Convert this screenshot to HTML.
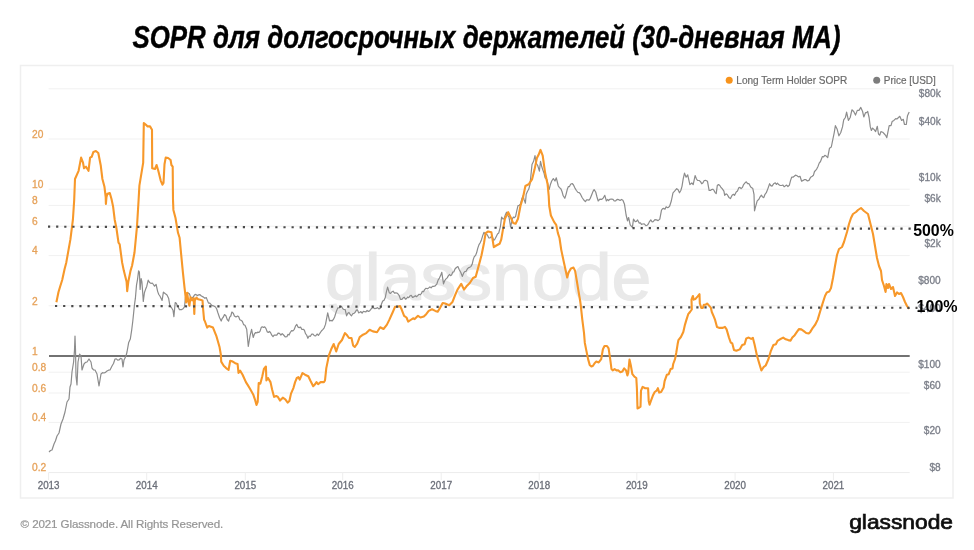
<!DOCTYPE html>
<html><head><meta charset="utf-8"><style>
html,body{margin:0;padding:0;background:#fff;}
body{width:974px;height:550px;overflow:hidden;position:relative;}
svg{position:absolute;left:0;top:0;}
</style></head><body>
<svg width="974" height="550" viewBox="0 0 974 550">
<text x="132.6" y="48.1" font-family="Liberation Sans, sans-serif" font-weight="bold" font-style="italic" font-size="31.5" fill="#000" stroke="#000" stroke-width="0.45" textLength="708" lengthAdjust="spacingAndGlyphs">SOPR для долгосрочных держателей (30-дневная MA)</text>
<defs><filter id="soft" filterUnits="userSpaceOnUse" x="0" y="0" width="974" height="550"><feGaussianBlur stdDeviation="0.4"/></filter></defs>
<g filter="url(#soft)">
<rect x="20.5" y="65.5" width="932.5" height="432.5" fill="#fff" stroke="#efefef" stroke-width="1.5"/>
<g stroke="#f1f1f1" stroke-width="1"><line x1="48.6" y1="88.8" x2="909.7" y2="88.8"/><line x1="48.6" y1="139.0" x2="909.7" y2="139.0"/><line x1="48.6" y1="189.2" x2="909.7" y2="189.2"/><line x1="48.6" y1="205.4" x2="909.7" y2="205.4"/><line x1="48.6" y1="226.2" x2="909.7" y2="226.2"/><line x1="48.6" y1="255.6" x2="909.7" y2="255.6"/><line x1="48.6" y1="305.8" x2="909.7" y2="305.8"/><line x1="48.6" y1="372.2" x2="909.7" y2="372.2"/><line x1="48.6" y1="393.0" x2="909.7" y2="393.0"/><line x1="48.6" y1="422.4" x2="909.7" y2="422.4"/></g>
<line x1="48.6" y1="472.6" x2="909.7" y2="472.6" stroke="#ececec" stroke-width="1"/>
<g stroke="#eeeeee" stroke-width="1"><line x1="48.6" y1="472.6" x2="48.6" y2="480"/><line x1="146.7" y1="472.6" x2="146.7" y2="480"/><line x1="245.3" y1="472.6" x2="245.3" y2="480"/><line x1="342.7" y1="472.6" x2="342.7" y2="480"/><line x1="441.2" y1="472.6" x2="441.2" y2="480"/><line x1="539.2" y1="472.6" x2="539.2" y2="480"/><line x1="636.8" y1="472.6" x2="636.8" y2="480"/><line x1="735.1" y1="472.6" x2="735.1" y2="480"/><line x1="833.4" y1="472.6" x2="833.4" y2="480"/></g>
<text x="324.9" y="299.6" font-family="Liberation Sans, sans-serif" font-size="67" fill="#e9e9e9" stroke="#e9e9e9" stroke-width="1.2" textLength="326.5" lengthAdjust="spacingAndGlyphs">glassnode</text>
<line x1="49" y1="356" x2="909.7" y2="356" stroke="#727272" stroke-width="1.8"/>
<polyline points="49.0,452.0 50.5,450.5 52.0,450.0 54.0,444.0 55.5,440.7 57.0,436.0 59.0,433.0 61.0,424.0 63.0,419.0 65.0,412.0 67.0,402.0 69.0,399.0 70.0,387.0 71.0,384.0 72.0,372.0 73.6,362.0 74.5,350.0 75.0,336.0 75.5,350.0 76.0,376.0 77.0,385.0 78.0,362.0 79.6,354.0 81.0,356.0 82.0,370.0 84.0,364.0 85.5,362.4 87.0,362.0 89.0,359.0 91.0,362.0 92.0,368.0 93.5,369.8 95.0,370.0 97.0,374.0 99.0,386.0 101.0,374.0 102.5,372.7 104.0,373.0 105.5,372.4 107.0,371.0 108.5,370.2 110.0,370.0 112.0,366.0 113.5,363.5 115.0,359.0 116.3,358.8 117.7,360.2 119.0,360.0 120.5,358.4 122.0,359.0 123.0,367.0 124.0,360.0 126.0,356.0 127.0,352.0 128.7,342.4 130.3,339.1 131.6,330.7 132.8,321.0 134.5,304.6 135.4,298.2 136.5,285.1 137.5,279.6 138.6,270.9 139.4,272.0 140.1,289.5 141.1,278.5 141.9,281.8 142.7,292.7 143.3,301.5 144.4,292.7 145.7,288.9 146.8,286.2 148.2,280.2 149.5,282.4 151.2,283.5 152.3,283.0 153.4,284.5 154.5,286.2 156.1,284.5 157.7,291.6 158.8,294.5 159.9,296.0 162.1,300.4 163.4,292.2 165.4,293.8 167.0,294.9 168.6,298.2 169.9,305.8 171.4,307.5 173.0,310.2 173.9,316.7 175.2,302.5 176.3,303.3 177.4,305.8 179.5,309.6 181.7,309.6 183.1,308.7 184.5,306.9 185.5,297.1 187.7,292.7 189.4,293.8 191.0,298.2 193.2,297.1 194.6,294.9 195.9,294.4 197.2,295.6 198.6,294.9 200.0,294.7 201.4,296.0 203.5,297.1 204.9,298.3 206.3,297.6 208.5,303.1 209.8,303.1 211.2,304.7 212.3,305.6 213.4,305.8 215.5,307.0 216.7,309.0 217.9,312.8 219.6,317.7 221.2,321.0 222.3,318.3 223.4,317.0 224.5,314.5 225.9,315.7 227.2,319.5 228.6,321.0 229.7,317.1 230.8,316.0 231.9,312.0 233.2,313.1 234.4,316.0 236.0,317.0 237.6,316.0 238.7,316.8 239.8,319.7 240.9,320.2 242.3,321.2 243.6,324.6 245.0,325.2 246.7,329.3 248.3,346.5 250.0,335.8 251.6,329.3 253.2,337.5 254.4,334.0 255.7,332.5 256.8,332.9 257.9,332.1 259.0,332.5 260.1,331.1 261.2,327.6 262.3,326.8 263.5,327.5 264.7,326.8 265.9,328.4 267.2,331.7 268.3,332.5 269.4,331.5 270.5,332.5 271.8,335.2 273.0,336.7 274.2,335.2 275.4,335.0 276.8,335.2 278.1,333.2 279.5,333.4 280.9,335.0 282.2,333.6 283.6,335.0 285.2,336.9 286.9,336.7 288.0,334.3 289.1,335.0 290.2,332.5 291.6,330.6 292.9,330.8 294.3,329.3 295.6,325.9 296.8,324.4 298.0,327.1 299.2,327.6 300.6,327.1 301.9,329.5 303.3,329.3 304.4,330.3 305.5,333.6 306.6,335.0 307.9,338.3 309.1,336.0 310.4,336.3 311.6,334.2 313.0,334.2 314.3,335.6 315.7,335.8 317.1,334.0 318.4,335.3 319.8,333.4 321.4,331.0 323.0,329.3 324.2,327.8 325.5,324.4 327.7,312.8 329.6,321.0 330.9,320.4 332.1,321.0 333.4,319.4 334.6,317.0 336.2,311.9 337.8,307.9 339.1,308.0 340.3,306.3 341.6,306.5 342.8,308.7 344.0,309.5 345.2,309.6 346.6,315.8 347.8,313.3 349.0,312.5 350.2,314.5 351.5,315.8 352.8,313.7 354.0,313.4 355.2,312.3 356.4,310.1 357.5,309.9 358.6,312.8 359.7,312.5 360.9,311.6 362.1,313.2 363.4,311.3 364.6,311.7 365.9,311.9 367.1,310.5 368.4,311.5 369.6,310.9 371.2,308.8 372.9,307.6 374.5,308.6 376.1,308.4 377.5,307.6 378.8,308.9 380.2,308.4 381.4,304.3 382.7,301.0 383.9,300.4 385.2,297.8 386.4,291.9 387.6,287.1 389.3,292.8 390.5,293.5 391.7,292.0 393.1,291.2 394.5,293.2 395.9,292.8 397.5,293.4 399.1,295.3 400.5,299.4 401.9,299.3 403.2,297.8 404.3,297.2 405.4,299.1 406.5,298.6 407.6,297.0 408.7,297.7 409.8,296.1 411.2,295.3 412.5,297.4 413.9,296.9 415.3,295.7 416.6,296.7 418.0,295.3 419.1,294.3 420.2,294.8 421.3,293.7 422.4,291.3 423.5,291.7 424.6,289.6 426.0,288.3 427.3,288.8 428.7,287.9 429.9,286.9 431.1,287.9 432.4,286.4 433.6,286.3 435.2,285.9 436.9,283.8 438.1,280.1 439.4,278.1 440.6,275.6 441.8,272.3 443.5,283.8 444.8,280.5 446.0,278.9 447.2,277.9 448.4,275.6 449.5,274.5 450.6,275.7 451.7,274.8 452.8,272.0 453.9,271.8 455.0,269.0 456.4,267.5 457.9,266.6 459.3,269.8 460.7,272.3 462.4,276.4 463.6,273.1 464.8,271.5 466.1,271.3 467.3,269.0 468.6,267.7 469.8,267.4 471.0,266.4 472.2,264.1 473.3,259.4 474.4,256.4 475.5,255.6 476.6,252.8 477.8,248.1 479.0,244.6 480.2,242.7 481.5,239.7 482.8,235.4 484.0,232.3 485.2,233.9 486.4,234.0 487.6,235.4 488.9,238.0 490.1,237.8 491.4,236.4 492.6,237.5 493.8,240.5 495.1,238.8 496.3,236.4 497.5,234.0 498.7,233.1 500.4,226.6 501.6,217.2 502.9,218.9 504.1,218.8 505.3,214.9 506.5,212.2 507.8,215.2 509.0,217.2 510.6,227.0 512.3,218.8 513.4,217.1 514.5,217.7 515.6,216.4 516.8,210.6 518.0,205.7 519.2,205.5 520.5,204.0 521.8,199.0 523.0,195.8 524.2,199.9 525.4,203.2 526.2,194.2 527.5,191.2 528.7,189.3 530.0,184.3 532.0,164.6 533.6,161.3 535.0,155.6 536.1,163.0 537.7,165.5 539.4,171.2 540.5,161.3 541.6,166.0 542.7,169.6 543.9,172.7 545.1,177.8 546.8,179.4 548.0,185.0 549.2,189.3 550.5,184.2 551.7,181.0 553.3,178.6 555.0,181.0 556.3,177.8 558.3,186.0 559.5,187.7 560.7,188.4 562.0,191.5 563.2,195.8 564.8,198.3 566.0,194.6 567.3,189.3 568.4,186.6 569.5,186.6 570.6,184.3 572.2,183.5 573.5,185.0 574.7,187.6 576.4,190.5 578.0,192.5 579.2,192.6 580.5,194.2 582.1,197.5 583.8,200.0 585.4,201.6 586.6,199.8 587.8,199.9 589.0,200.1 590.3,198.3 591.9,194.2 593.0,191.4 594.1,189.6 595.7,192.0 597.0,197.0 598.2,201.0 599.9,199.2 601.5,199.4 603.1,198.2 604.8,195.3 606.4,201.0 607.5,199.5 608.6,200.5 609.7,199.4 611.4,199.0 613.0,199.4 614.2,200.8 615.5,201.0 617.1,199.4 618.7,199.7 620.1,200.4 621.5,199.4 622.9,200.2 624.5,204.3 626.1,215.0 627.5,220.8 628.6,217.5 630.2,224.9 632.4,227.3 633.5,219.1 635.2,221.6 636.4,221.4 637.6,219.9 639.3,223.2 640.4,222.8 641.5,224.4 642.6,224.0 644.2,223.8 645.9,225.7 647.1,225.3 648.3,224.0 649.5,221.6 650.8,219.9 652.0,221.8 653.2,221.6 654.9,219.7 656.5,219.9 658.1,220.6 659.8,219.1 661.5,210.1 662.7,208.6 663.9,208.4 665.0,209.2 666.1,206.8 667.2,207.6 668.5,207.3 669.7,206.0 671.3,201.0 673.0,192.8 674.6,191.2 676.7,188.7 678.1,189.8 679.5,192.8 680.8,190.5 682.0,186.3 683.2,178.9 684.5,173.1 686.1,177.2 687.7,174.8 689.9,184.6 691.8,183.0 693.2,184.6 695.1,175.6 696.4,178.8 697.6,180.5 699.2,180.5 700.5,181.6 701.7,183.8 703.0,182.7 704.2,180.5 705.9,180.4 707.5,181.3 709.1,190.4 710.4,190.4 711.6,189.6 712.8,189.2 714.0,190.4 715.1,192.6 716.2,193.7 717.3,185.5 718.5,184.5 719.8,185.5 721.0,187.5 722.2,188.7 723.9,191.2 724.7,195.3 726.0,193.9 727.2,194.5 728.9,197.4 730.5,198.6 732.1,195.3 733.4,194.3 734.6,195.3 736.2,192.0 737.5,191.0 738.7,187.9 739.9,187.3 741.1,188.7 742.4,187.4 743.6,184.6 745.0,182.9 746.3,181.8 747.6,183.7 749.0,183.7 750.7,187.0 752.8,188.6 754.0,194.3 754.5,210.8 755.6,206.7 757.2,200.9 758.9,199.3 760.1,196.8 761.4,195.2 762.6,197.0 763.8,197.6 765.0,194.3 766.3,192.7 767.9,188.6 769.6,183.7 770.8,185.6 772.0,186.1 773.6,183.8 775.3,182.8 776.4,184.4 777.5,183.1 778.6,184.5 780.2,185.5 781.9,185.3 783.0,185.0 784.1,186.8 785.2,186.1 786.6,185.1 787.9,186.5 789.3,185.3 790.5,180.6 791.7,177.1 793.0,177.2 794.2,176.3 795.5,175.2 796.7,175.5 798.4,176.9 800.0,176.3 801.6,181.2 803.2,180.4 804.5,179.5 805.7,179.6 807.4,180.9 809.0,180.4 810.6,177.3 812.3,176.3 813.4,175.3 814.5,171.5 815.6,170.5 816.8,168.8 818.0,166.4 819.2,163.1 820.5,161.5 822.4,156.5 823.6,156.9 824.8,155.3 826.2,156.1 827.7,157.6 829.5,148.2 831.3,147.0 833.0,138.7 834.2,132.8 835.4,125.7 837.2,129.3 838.9,135.8 840.7,132.8 842.5,126.9 843.7,119.8 845.4,117.5 846.6,112.1 848.4,120.4 850.2,117.5 851.9,109.8 853.7,111.5 855.5,115.1 857.3,110.4 859.0,110.4 860.8,107.4 862.6,111.5 863.8,116.9 865.5,112.7 866.6,112.6 867.7,111.5 869.1,117.5 870.3,126.9 871.4,130.5 872.6,128.1 874.4,129.9 875.6,131.6 877.3,126.3 878.5,134.0 879.7,135.2 880.9,131.6 882.7,132.2 884.4,134.0 885.6,135.3 886.8,137.6 888.0,131.6 889.2,125.7 891.0,125.7 892.1,121.6 893.9,120.4 895.7,118.6 896.9,119.0 898.0,118.0 899.8,116.3 901.6,120.4 903.3,119.3 904.5,124.5 906.3,124.5 907.5,115.7 909.2,112.1" fill="none" stroke="#8c8c8c" stroke-width="1.2" stroke-linejoin="round"/>
<polyline points="56.4,302.2 58.5,292.0 60.0,287.0 62.2,280.0 64.6,269.0 66.3,262.4 70.4,239.4 72.9,219.7 74.2,200.0 75.0,179.0 78.6,170.8 81.1,157.6 83.0,162.6 84.0,168.3 86.0,166.7 88.5,170.8 90.1,157.6 91.7,156.8 93.4,151.9 95.9,151.0 98.3,153.0 100.8,165.8 102.4,179.0 104.4,186.4 105.7,197.0 105.9,204.0 106.5,197.0 107.4,193.8 109.8,193.0 111.5,199.0 113.1,206.6 114.7,219.7 116.4,228.0 118.5,242.7 119.7,244.3 122.1,262.4 123.8,270.6 126.6,281.8 127.2,291.1 128.3,281.8 130.5,270.9 132.1,265.5 134.5,252.5 137.0,226.3 138.6,200.0 139.4,185.6 143.2,162.6 143.8,123.1 146.0,124.8 147.6,126.4 150.0,126.4 152.0,129.7 152.2,168.3 155.0,169.0 156.6,165.0 158.3,170.8 160.7,180.6 162.4,184.7 163.5,183.0 164.5,164.2 165.7,157.6 168.1,158.0 170.6,160.0 171.4,165.0 172.7,166.7 173.0,200.0 173.4,209.9 175.5,218.0 178.0,232.8 179.6,237.8 181.3,255.8 182.9,272.3 184.5,287.3 185.5,296.0 186.1,302.5 187.2,292.7 188.3,301.5 189.4,305.8 190.5,297.1 192.1,300.4 193.7,298.2 194.3,314.0 194.8,300.4 196.5,297.6 198.1,299.3 200.3,299.8 202.5,300.4 203.1,309.0 204.1,319.8 204.8,321.0 207.2,327.6 208.9,326.0 213.0,327.6 216.3,335.8 219.6,347.3 220.9,355.0 221.2,361.6 223.7,365.7 226.1,368.1 228.6,369.8 230.2,360.7 232.7,361.6 235.2,363.2 237.6,364.0 238.5,373.0 240.1,370.6 242.6,374.7 245.9,382.1 247.5,384.6 250.0,388.7 253.2,394.4 254.9,399.3 256.5,405.0 257.7,401.8 258.7,383.0 260.3,383.7 262.3,376.3 263.9,369.0 265.9,366.5 266.4,380.5 268.0,378.0 270.5,382.1 272.1,389.5 274.1,396.9 276.2,396.0 277.9,396.9 280.0,400.6 282.8,397.7 285.3,399.3 287.7,402.6 289.4,401.0 291.0,393.6 293.5,387.8 295.1,382.1 296.8,378.0 298.4,377.2 299.7,379.6 302.5,373.0 305.0,374.7 308.3,376.3 310.7,381.3 313.2,386.2 314.8,384.6 316.5,382.1 318.1,384.2 320.6,382.1 323.9,382.1 325.0,380.5 326.3,368.1 328.0,359.9 328.8,355.6 331.3,349.0 333.7,344.0 336.2,351.4 338.7,344.0 342.0,340.0 344.9,333.1 346.6,334.7 349.0,338.0 351.5,338.0 353.1,345.4 354.8,347.0 357.2,343.7 359.7,337.2 363.0,334.7 366.3,333.1 369.6,329.8 372.9,331.4 377.0,332.3 380.2,327.3 383.5,329.0 386.8,324.9 389.3,319.9 392.6,312.5 395.0,306.8 397.5,306.8 400.0,306.0 401.6,309.3 404.1,315.8 406.5,317.5 408.2,321.6 410.6,320.0 413.1,318.3 414.7,319.1 418.0,315.8 420.5,317.5 423.8,316.6 426.2,314.2 428.7,310.9 432.0,309.3 435.3,310.9 437.7,311.7 440.2,307.6 442.7,303.0 445.1,303.5 449.2,305.2 452.5,301.9 455.0,295.3 457.5,289.6 461.2,283.8 464.0,289.6 466.5,286.3 469.8,283.0 473.0,278.0 475.7,276.7 478.2,267.6 481.5,255.3 484.0,243.0 485.6,233.1 488.1,231.5 491.4,232.3 493.8,247.1 496.3,245.5 499.6,243.8 501.2,239.7 502.9,229.9 504.9,218.8 508.2,212.2 510.6,217.2 513.1,222.9 515.6,223.7 518.0,218.8 520.5,205.7 523.0,197.5 525.4,186.0 528.7,184.3 532.0,179.4 534.5,169.6 536.9,158.1 538.6,154.8 540.5,149.9 542.7,155.6 545.1,172.8 547.6,184.3 548.7,195.8 549.2,205.7 550.9,215.5 554.2,222.1 556.2,224.9 557.9,233.1 559.5,238.0 561.2,249.6 563.6,261.0 566.1,272.5 567.2,277.5 568.6,272.5 571.0,268.4 573.5,267.6 575.1,270.9 576.8,280.8 578.4,290.6 580.1,300.5 580.7,304.9 582.3,319.7 584.0,332.8 584.8,342.7 586.4,350.9 588.1,359.1 589.7,364.9 591.4,366.5 593.0,365.7 594.6,363.2 596.3,361.6 598.7,362.4 601.2,359.1 602.9,349.3 604.5,346.0 607.0,346.0 608.6,348.4 610.2,359.1 611.5,369.1 612.7,370.4 614.6,369.1 616.5,370.4 618.4,370.4 620.4,372.3 622.3,371.6 624.2,368.4 626.1,370.4 627.4,375.4 628.2,372.9 629.5,359.5 630.8,365.3 632.4,374.2 634.4,376.7 636.3,378.0 636.9,388.2 637.5,408.5 638.8,407.9 640.5,406.6 641.0,390.7 642.6,386.9 645.2,388.2 648.1,388.2 648.7,400.9 649.6,404.7 650.9,400.9 652.8,395.8 654.7,392.0 656.6,390.7 657.9,388.2 659.2,392.6 661.1,392.0 663.6,387.5 664.6,381.2 666.8,374.8 668.7,374.2 670.6,369.1 672.5,368.4 673.2,364.0 675.1,358.9 676.3,352.5 677.6,344.3 678.4,340.2 680.9,337.0 683.3,332.0 685.0,324.6 686.4,319.9 688.2,314.2 690.0,312.0 691.8,309.5 691.5,299.6 692.9,296.0 693.7,299.6 695.5,298.9 697.7,296.4 699.5,294.2 699.8,303.3 701.3,308.0 702.8,308.0 703.8,304.7 705.7,304.7 707.1,303.6 708.6,305.1 710.8,307.6 711.8,312.0 713.7,316.4 715.1,319.9 717.0,327.1 719.5,327.9 722.8,327.9 724.9,326.9 726.6,329.4 729.0,337.6 730.7,342.5 732.3,343.4 734.0,349.9 736.4,350.8 739.7,349.4 742.2,345.0 744.6,344.2 746.3,338.4 748.7,337.6 751.2,338.9 752.9,337.9 754.5,344.2 757.0,355.7 759.4,363.9 761.4,370.5 763.5,367.2 765.7,365.5 768.5,359.0 770.9,350.8 773.4,345.0 775.9,344.2 777.5,340.9 780.0,339.3 783.2,337.6 785.7,339.3 788.2,340.1 790.6,340.6 792.3,337.6 794.7,335.2 796.4,332.7 798.9,329.1 801.3,329.4 803.8,331.1 806.2,333.0 808.7,333.5 810.3,331.9 812.8,327.8 815.3,324.5 817.7,319.6 820.2,311.3 822.7,303.1 825.1,295.7 826.8,292.5 829.2,291.6 831.0,288.0 833.0,278.0 835.0,266.0 837.0,255.0 839.0,249.0 842.0,247.0 844.0,242.0 847.0,232.0 849.0,224.0 851.0,218.0 853.0,214.0 856.0,212.0 858.0,210.0 861.0,208.0 864.0,211.0 868.0,214.0 870.0,222.0 873.0,234.0 875.0,246.0 877.0,258.0 879.0,266.0 881.0,271.0 882.0,280.0 884.0,286.0 885.6,292.0 886.4,284.0 888.0,288.0 889.0,284.0 891.0,289.0 893.0,287.0 895.0,296.0 897.0,292.4 899.0,294.0 901.0,293.0 903.0,297.0 905.0,302.0 907.0,306.0 909.0,309.0" fill="none" stroke="#f7982a" stroke-width="2.1" stroke-linejoin="round"/>
<g font-family="Liberation Sans, sans-serif" font-size="10.2" fill="#e6a25a" stroke="#e6a25a" stroke-width="0.3"><text x="32" y="137.8">20</text><text x="32" y="188.0">10</text><text x="32" y="204.2">8</text><text x="32" y="225.0">6</text><text x="32" y="254.4">4</text><text x="32" y="304.6">2</text><text x="32" y="354.8">1</text><text x="32" y="371.0">0.8</text><text x="32" y="391.8">0.6</text><text x="32" y="421.2">0.4</text><text x="32" y="471.4">0.2</text></g>
<g font-family="Liberation Sans, sans-serif" font-size="10.1" fill="#7a7e88" stroke="#7a7e88" stroke-width="0.3" text-anchor="end"><text x="940.7" y="97.1">$80k</text><text x="940.7" y="125.2">$40k</text><text x="940.7" y="181.4">$10k</text><text x="940.7" y="202.1">$6k</text><text x="940.7" y="246.7">$2k</text><text x="940.7" y="283.9">$800</text><text x="940.7" y="312.0">$400</text><text x="940.7" y="368.2">$100</text><text x="940.7" y="388.9">$60</text><text x="940.7" y="433.5">$20</text><text x="940.7" y="470.7">$8</text></g>
<g font-family="Liberation Sans, sans-serif" font-size="10.6" fill="#6a6e78" stroke="#6a6e78" stroke-width="0.3"><text x="37.7" y="488.9" textLength="21.8" lengthAdjust="spacingAndGlyphs">2013</text><text x="135.8" y="488.9" textLength="21.8" lengthAdjust="spacingAndGlyphs">2014</text><text x="234.4" y="488.9" textLength="21.8" lengthAdjust="spacingAndGlyphs">2015</text><text x="331.8" y="488.9" textLength="21.8" lengthAdjust="spacingAndGlyphs">2016</text><text x="430.3" y="488.9" textLength="21.8" lengthAdjust="spacingAndGlyphs">2017</text><text x="528.3" y="488.9" textLength="21.8" lengthAdjust="spacingAndGlyphs">2018</text><text x="625.9" y="488.9" textLength="21.8" lengthAdjust="spacingAndGlyphs">2019</text><text x="724.2" y="488.9" textLength="21.8" lengthAdjust="spacingAndGlyphs">2020</text><text x="822.5" y="488.9" textLength="21.8" lengthAdjust="spacingAndGlyphs">2021</text></g>
<circle cx="729.2" cy="80.3" r="3.5" fill="#f7931a"/>
<text x="736.3" y="84" font-family="Liberation Sans, sans-serif" font-size="10.5" fill="#6b6b6b" stroke="#6b6b6b" stroke-width="0.2" textLength="111" lengthAdjust="spacingAndGlyphs">Long Term Holder SOPR</text>
<circle cx="876.7" cy="80.3" r="3.5" fill="#7d7d7d"/>
<text x="883.8" y="84" font-family="Liberation Sans, sans-serif" font-size="10.5" fill="#6b6b6b" stroke="#6b6b6b" stroke-width="0.2" textLength="52" lengthAdjust="spacingAndGlyphs">Price [USD]</text>
<text x="20.6" y="527.9" font-family="Liberation Sans, sans-serif" font-size="11.6" fill="#959595" stroke="#959595" stroke-width="0.2" textLength="202.6" lengthAdjust="spacing">© 2021 Glassnode. All Rights Reserved.</text>
<text x="849.2" y="528.6" font-family="Liberation Sans, sans-serif" font-size="20.4" fill="#111" stroke="#111" stroke-width="0.7" textLength="103.8" lengthAdjust="spacingAndGlyphs">glassnode</text>
</g>
<g stroke="#4a4a4a" stroke-width="2.2" stroke-dasharray="2.2 5.918">
<line x1="48.0" y1="226.7" x2="910.7" y2="228.7"/>
<line x1="55.0" y1="306.0" x2="917.5" y2="307.8"/>
</g>
<text x="913.2" y="235.7" font-family="Liberation Sans, sans-serif" font-weight="bold" font-size="15.8" fill="#000" textLength="40.6" lengthAdjust="spacingAndGlyphs">500%</text>
<text x="916.6" y="311.6" font-family="Liberation Sans, sans-serif" font-weight="bold" font-size="15.8" fill="#000" textLength="41" lengthAdjust="spacingAndGlyphs">100%</text>
</svg>
</body></html>
